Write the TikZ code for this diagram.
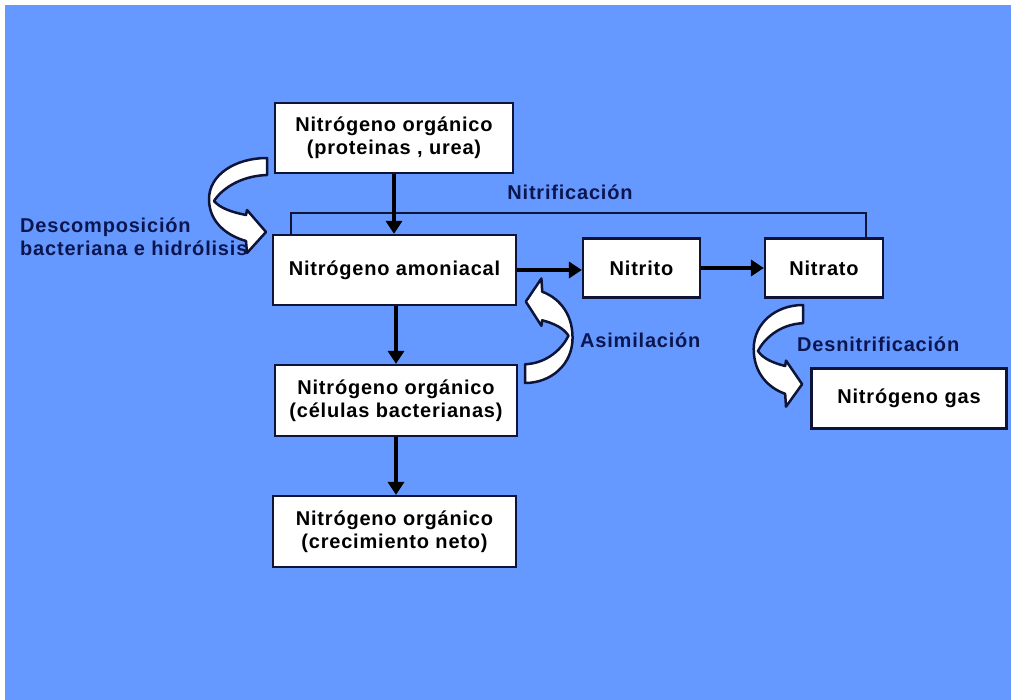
\documentclass[tikz,border=0pt]{standalone}
\usepackage{fontspec}
\setmainfont{Liberation Sans}[LetterSpace=4]
\usetikzlibrary{arrows.meta}
\definecolor{bgblue}{HTML}{6699FF}
\definecolor{navy}{HTML}{0B1650}
\definecolor{edge}{HTML}{0E1438}
\newcommand\bentarrow[4]{%
  \begin{scope}[shift={(#1,#2)}, xscale=#3, yscale=#4]
    \filldraw[bentstyle] (0,0) .. controls (-32,0) and (-58,17) .. (-58,41)
      .. controls (-58,65) and (-39,78) .. (-21,83) -- (-20,95) -- (-1,74)
      -- (-20,52) -- (-21,57) .. controls (-36,54) and (-47,50) .. (-53,43)
      .. controls (-46,32) and (-28,18) .. (0,17) -- cycle;
  \end{scope}}
\tikzset{
  txt/.style={font=\fontsize{20pt}{23pt}\selectfont\bfseries},
  box/.style={txt, draw=edge, line width=2.2pt, fill=white, text=black, align=center, inner sep=0pt},
  lbl/.style={txt, text=navy, inner sep=0pt},
  flow/.style={line width=4pt, black, -{Triangle[length=13pt,width=16pt]}},
  bentstyle/.style={fill=white, draw=edge, line width=2.5pt, line join=round},
  bracket/.style={draw=edge, line width=2.2pt}
}
\begin{document}
\begin{tikzpicture}[x=1pt,y=-1pt]
\useasboundingbox (0,0) rectangle (1011,700);
\fill[white] (0,0) rectangle (1011,700);
\fill[bgblue] (5,5) rectangle (1011,700);

\node[box, minimum width=238pt, minimum height=70pt] (org1) at (394,138) {Nitrógeno orgánico\\(proteinas , urea)};
\node[box, minimum width=243pt, minimum height=70pt] (amon) at (394.5,270) {Nitrógeno amoniacal};
\node[box, minimum width=117pt, minimum height=59pt] (nitrito) at (641.5,268) {Nitrito};
\node[box, minimum width=118pt, minimum height=59pt] (nitrato) at (824,268) {Nitrato};
\node[box, minimum width=242pt, minimum height=71pt] (cel) at (396,400.5) {Nitrógeno orgánico\\(células bacterianas)};
\node[box, minimum width=243pt, minimum height=71pt] (crec) at (394.5,531.5) {Nitrógeno orgánico\\(crecimiento neto)};
\node[box, minimum width=195pt, minimum height=60pt] (gas) at (909,398.5) {Nitrógeno gas};

\coordinate (nl) at (291,213);
\coordinate (nr) at (866,213);
\draw[bracket] (amon.north -| nl) -- (nl) -- (nr) -- (nr |- nitrato.north);
\node[lbl] (nitrif) at (570,192) {Nitrificación};

\draw[flow] (org1.south) -- (org1.south |- amon.north);
\draw[flow] (amon.east) -- (amon.east -| nitrito.west);
\draw[flow] (nitrito.east) -- (nitrato.west);
\draw[flow] (cel.north |- amon.south) -- (cel.north);
\draw[flow] (cel.south) -- (cel.south |- crec.north);

\bentarrow{267}{158}{1}{1}
\bentarrow{525}{383}{-0.82}{-1.1}
\bentarrow{803}{305}{0.85}{1.07}

\node[lbl, anchor=west, align=left] (desc) at (20,237) {Descomposición\\bacteriana e hidrólisis};
\node[lbl, anchor=west] (asim) at (580,340) {Asimilación};
\node[lbl, anchor=west] (desn) at (797,344) {Desnitrificación};
\end{tikzpicture}
\end{document}
